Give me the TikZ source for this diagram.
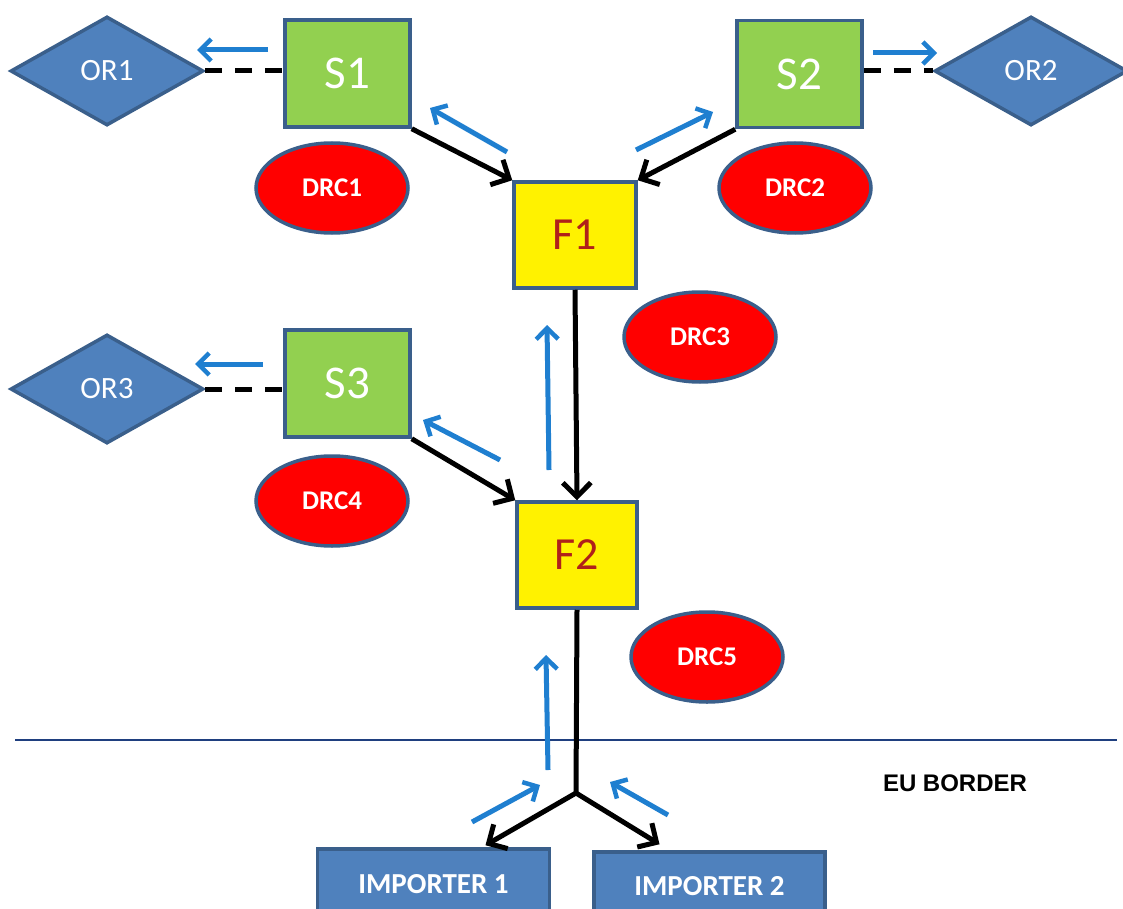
\documentclass[tikz,border=0pt]{standalone}
\usepackage{fontspec}
\setmainfont{Carlito}
\newfontfamily\arialfont{Liberation Sans}
\usetikzlibrary{shapes.geometric,arrows.meta,calc}
\definecolor{bordblue}{HTML}{3A5F8B}
\definecolor{diamblue}{HTML}{4F81BD}
\definecolor{sgreen}{HTML}{92D050}
\definecolor{fred}{HTML}{B0201A}
\definecolor{arrblue}{HTML}{1F7FD0}
\definecolor{eublue}{HTML}{1F3F7F}
\begin{document}
\begin{tikzpicture}[x=1pt,y=-1pt,
  orbox/.style={diamond,draw=bordblue,fill=diamblue,line width=3.5pt,inner sep=0pt,
    minimum width=193pt,minimum height=109pt,text=white,font=\fontsize{31}{31}\selectfont},
  sbox/.style={rectangle,draw=bordblue,fill=sgreen,line width=3.5pt,inner sep=0pt,
    minimum width=125pt,minimum height=107pt,text=white,font=\fontsize{47}{47}\selectfont},
  fbox/.style={rectangle,draw=bordblue,fill=yellow,line width=3.5pt,inner sep=0pt,
    minimum width=122pt,minimum height=106pt,text=fred,font=\fontsize{46}{46}\selectfont},
  drc/.style={ellipse,draw=bordblue,fill=red,line width=3.5pt,inner sep=0pt,
    minimum width=152pt,minimum height=90pt,text=white,font=\bfseries\fontsize{27}{27}\selectfont},
  impbox/.style={rectangle,draw=bordblue,fill=diamblue,line width=3.5pt,inner sep=0pt,
    minimum width=232pt,minimum height=70pt,text=white,font=\bfseries\fontsize{29}{29}\selectfont},
  flow/.style={line width=5pt,draw=black,-{Straight Barb[length=14pt,width=28pt,line width=5pt]}},
  ret/.style={line width=5pt,draw=arrblue,-{Straight Barb[length=11pt,width=22pt,line width=4.5pt]}},
  dashlink/.style={line width=5pt,draw=black,dash pattern=on 17pt off 13pt}
]
\useasboundingbox (0,0) rectangle (1123,909);

% nodes
\node[orbox] (OR1) at (107,71) {OR1};
\node[orbox] (OR2) at (1031,71) {OR2};
\node[orbox] (OR3) at (107,389) {OR3};
\node[sbox] (S1) at (347.5,73.5) {S1};
\node[sbox] (S2) at (799.5,74) {S2};
\node[sbox] (S3) at (347.5,383.5) {S3};
\node[fbox] (F1) at (575,235) {F1};
\node[fbox,minimum width=120pt] (F2) at (577,555) {F2};
\node[drc] (DRC1) at (332,188) {DRC1};
\node[drc] (DRC2) at (795,188) {DRC2};
\node[drc] (DRC3) at (700,337) {DRC3};
\node[drc] (DRC4) at (332,501) {DRC4};
\node[drc] (DRC5) at (707,657) {DRC5};
\node[impbox] (IMP1) at (433.5,884) {IMPORTER 1};
\node[impbox,minimum width=231pt,minimum height=68pt] (IMP2) at (709.5,886) {IMPORTER 2};
\coordinate (J) at (576,793);
\coordinate (EUl) at (15,740);
\coordinate (EUr) at (1117,740);
\node[font=\arialfont\bfseries\fontsize{24}{24}\selectfont,text=black] (EU) at (955,783) {EU BORDER};

% border line
\draw[eublue,line width=2pt] (EUl) -- (EUr);

% dashed links
\draw[dashlink] (OR1.east) -- (S1.west |- OR1.east);
\draw[dashlink] (S2.east |- OR2.west) -- (OR2.west);
\draw[dashlink] (OR3.east) -- (S3.west |- OR3.east);

% black flows
\draw[flow] (S1.south east) -- (F1.north west);
\draw[flow] (S2.south west) -- (F1.north east);
\draw[flow] (F1.south) -- (F2.north);
\draw[flow] (S3.south east) -- (F2.north west);
\draw[line width=5pt] (F2.south) -- (J);
\draw[flow] (J) -- ($(IMP1.north)+(52,-2)$);
\draw[flow] (J) -- ($(IMP2.north)+(-50,-6)$);

% blue return arrows
\coordinate (b1s) at (268,50);  \coordinate (b1e) at (197,50);
\coordinate (b2s) at (507,152); \coordinate (b2e) at (430,108);
\coordinate (b3s) at (636,150); \coordinate (b3e) at (713,112);
\coordinate (b4s) at (873,53);  \coordinate (b4e) at (937,53);
\coordinate (b5s) at (549,470); \coordinate (b5e) at (547,325);
\coordinate (b6s) at (263,364); \coordinate (b6e) at (195,364);
\coordinate (b7s) at (500,460); \coordinate (b7e) at (423,420);
\coordinate (b8s) at (548,770); \coordinate (b8e) at (546,655);
\coordinate (b9s) at (472,822); \coordinate (b9e) at (540,785);
\coordinate (b10s) at (668,815); \coordinate (b10e) at (610,782);
\foreach \i in {1,...,10} {\draw[ret] (b\i s) -- (b\i e);}
\end{tikzpicture}
\end{document}
